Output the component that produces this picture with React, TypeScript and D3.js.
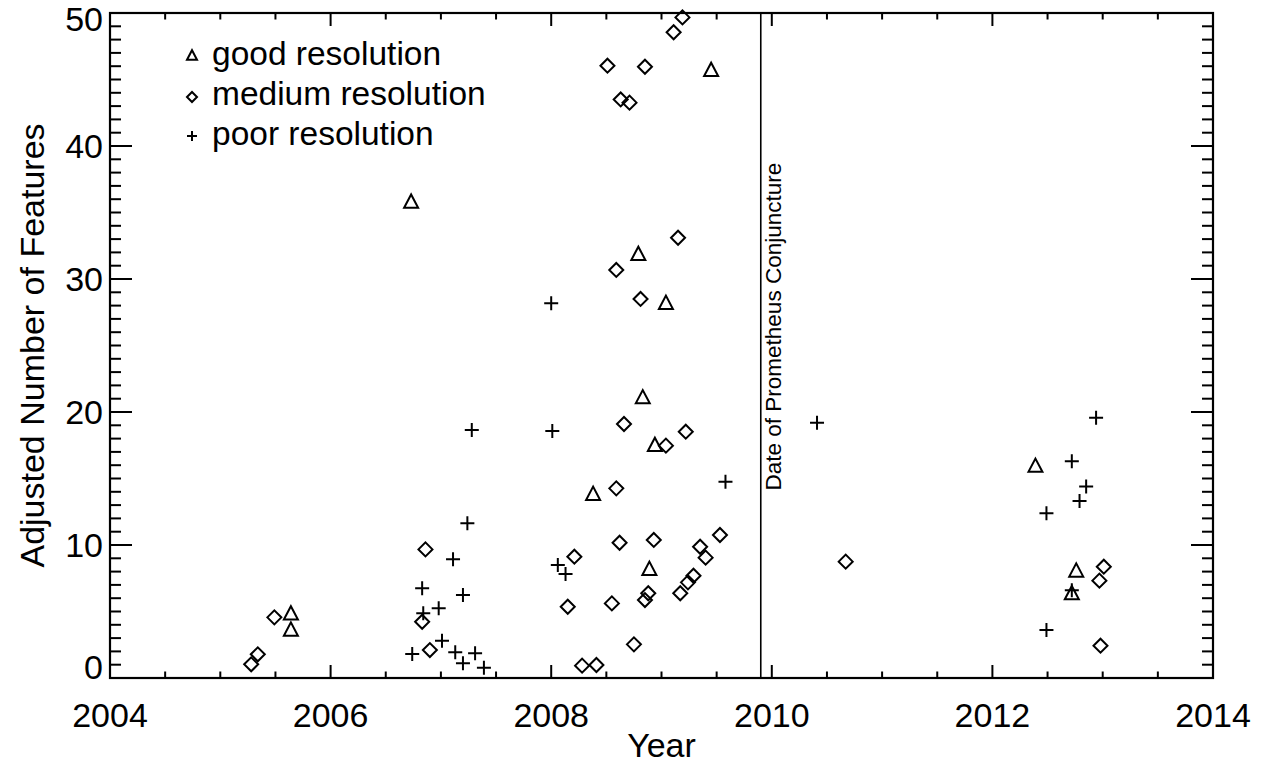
import React from "react";
import * as d3 from "d3";

// good resolution (triangles)
const goodYear = [2005.64, 2005.64, 2006.73, 2008.38, 2008.79, 2008.83, 2008.89, 2008.94, 2009.04, 2009.45, 2012.39, 2012.76, 2012.72];
const goodVal = [4.9, 3.68, 35.86, 13.89, 31.93, 21.15, 8.25, 17.57, 28.25, 45.76, 16.0, 8.12, 6.42];

// medium resolution (diamonds)
const mediumYear = [2005.28, 2005.34, 2005.49, 2006.86, 2006.83, 2006.90,
  2008.28, 2008.41, 2008.75, 2008.15, 2008.55, 2008.85, 2008.88, 2009.17, 2009.24, 2009.29,
  2008.21, 2009.40, 2009.35, 2009.53, 2008.62, 2008.93, 2008.59, 2009.04, 2009.22, 2008.66,
  2008.81, 2008.59, 2009.15, 2008.63, 2008.71, 2008.51, 2008.85, 2009.11, 2009.19,
  2010.67, 2013.01, 2012.97, 2012.98];
const mediumVal = [1.03, 1.78, 4.56, 9.67, 4.23, 2.1,
  0.93, 0.98, 2.53, 5.36, 5.61, 5.86, 6.37, 6.37, 7.19, 7.69,
  9.12, 9.05, 9.87, 10.75, 10.17, 10.38, 14.26, 17.47, 18.52, 19.1,
  28.5, 30.68, 33.1, 43.5, 43.26, 46.04, 45.96, 48.55, 49.67,
  8.75, 8.37, 7.32, 2.43];

// poor resolution (plus)
const poorYear = [2006.74, 2006.83, 2006.84, 2006.98, 2007.01, 2007.11, 2007.13, 2007.20, 2007.20, 2007.24, 2007.28, 2007.31, 2007.39,
  2008.00, 2008.01, 2008.06, 2008.13, 2009.58,
  2010.41,
  2012.94, 2012.72, 2012.85, 2012.79, 2012.49, 2012.49, 2012.72];
const poorVal = [1.8, 6.74, 4.86, 5.24, 2.81, 8.92, 1.93, 6.24, 1.1, 11.63, 18.65, 1.86, 0.78,
  28.17, 18.57, 8.5, 7.82, 14.76,
  19.2,
  19.57, 16.3, 14.4, 13.3, 12.38, 3.6, 6.6];

const xTickValues = [2004, 2006, 2008, 2010, 2012, 2014];
const yTickValues = [0, 10, 20, 30, 40, 50];
const legendLabels = ["good resolution", "medium resolution", "poor resolution"];
const conjunctionYear = 2009.9;
const conjunctionLabel = "Date of Prometheus Conjuncture";

const W = 1265, H = 764;
const L = 110, R = 1213, T = 13, B = 678;
const FONT = "'Liberation Sans', Arial, Helvetica, sans-serif";

function Tri({ x, y, s }: { x: number; y: number; s: number }) {
  const h = s * 0.95;
  return <path d={`M${x - s / 2},${y + h / 2}L${x},${y - h / 2}L${x + s / 2},${y + h / 2}Z`} fill="none" stroke="#000" strokeWidth={2} strokeLinejoin="miter" />;
}
function Dia({ x, y, s }: { x: number; y: number; s: number }) {
  const r = s / 2;
  return <path d={`M${x - r},${y}L${x},${y - r}L${x + r},${y}L${x},${y + r}Z`} fill="none" stroke="#000" strokeWidth={2} />;
}
function Plus({ x, y, s }: { x: number; y: number; s: number }) {
  const r = s / 2;
  return <path d={`M${x - r},${y}H${x + r}M${x},${y - r}V${y + r}`} fill="none" stroke="#000" strokeWidth={2} />;
}

export default function App() {
  const x = d3.scaleLinear().domain([2004, 2014]).range([L, R]);
  const y = d3.scaleLinear().domain([0, 50]).range([B, T]);
  const xMinor = d3.range(2004, 2014.001, 0.5).filter((v) => Math.abs(v / 2 - Math.round(v / 2)) > 1e-6);
  const yMinor = d3.range(0, 50.001, 1).filter((v) => v % 10 !== 0);
  const xMaj = 13, xMin = 6.5, yMaj = 22, yMin = 11;

  return (
    <svg width={W} height={H} style={{ position: "absolute", left: 0, top: 0, background: "#fff" }} fontFamily={FONT}>
      <rect x={0} y={0} width={W} height={H} fill="#fff" />
      {/* ticks */}
      <g stroke="#000" strokeWidth={2}>
        {xTickValues.map((v) => (
          <g key={"xt" + v}>
            <line x1={x(v)} x2={x(v)} y1={B} y2={B - xMaj} />
            <line x1={x(v)} x2={x(v)} y1={T} y2={T + xMaj} />
          </g>
        ))}
        {xMinor.map((v) => (
          <g key={"xm" + v}>
            <line x1={x(v)} x2={x(v)} y1={B} y2={B - xMin} />
            <line x1={x(v)} x2={x(v)} y1={T} y2={T + xMin} />
          </g>
        ))}
        {yTickValues.map((v) => (
          <g key={"yt" + v}>
            <line x1={L} x2={L + yMaj} y1={y(v)} y2={y(v)} />
            <line x1={R} x2={R - yMaj} y1={y(v)} y2={y(v)} />
          </g>
        ))}
        {yMinor.map((v) => (
          <g key={"ym" + v}>
            <line x1={L} x2={L + yMin} y1={y(v)} y2={y(v)} />
            <line x1={R} x2={R - yMin} y1={y(v)} y2={y(v)} />
          </g>
        ))}
      </g>
      <rect x={L} y={T} width={R - L} height={B - T} fill="none" stroke="#000" strokeWidth={2.2} />

      {/* conjunction line */}
      <line x1={x(conjunctionYear)} x2={x(conjunctionYear)} y1={T} y2={B} stroke="#000" strokeWidth={1.6} />
      <text transform={`translate(${x(conjunctionYear) + 20},${y(14.1)}) rotate(-90)`} fontSize={22.5} fill="#000">{conjunctionLabel}</text>

      {/* tick labels */}
      {xTickValues.map((v) => (
        <text key={"xl" + v} x={x(v)} y={B + 49} textAnchor="middle" fontSize={34} fill="#000">{v}</text>
      ))}
      {yTickValues.map((v) => (
        <text key={"yl" + v} x={L - 7} y={y(v) + (v === 0 ? 1 : v === 50 ? 18 : 12)} textAnchor="end" fontSize={34} fill="#000">{v}</text>
      ))}

      {/* axis titles */}
      <text x={(L + R) / 2} y={757} textAnchor="middle" fontSize={34} fill="#000">Year</text>
      <text transform={`translate(44,${(T + B) / 2}) rotate(-90)`} textAnchor="middle" fontSize={34} fill="#000">Adjusted Number of Features</text>

      {/* data */}
      {goodYear.map((v, i) => <Tri key={"g" + i} x={x(v)} y={y(goodVal[i])} s={14} />)}
      {mediumYear.map((v, i) => <Dia key={"m" + i} x={x(v)} y={y(mediumVal[i])} s={14} />)}
      {poorYear.map((v, i) => <Plus key={"p" + i} x={x(v)} y={y(poorVal[i])} s={14} />)}

      {/* legend */}
      <Tri x={192} y={55} s={10} />
      <Dia x={192} y={97} s={10} />
      <Plus x={192} y={136} s={10} />
      {legendLabels.map((t, i) => (
        <text key={t} x={212} y={65 + i * 40} fontSize={33.5} fill="#000">{t}</text>
      ))}
    </svg>
  );
}
